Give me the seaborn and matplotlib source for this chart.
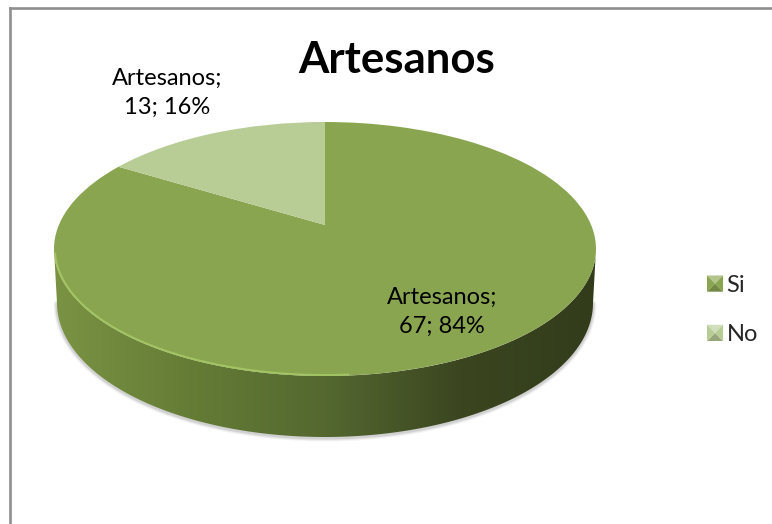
import numpy as np
import matplotlib
matplotlib.use("Agg")
import matplotlib.pyplot as plt
import seaborn as sns
from matplotlib.colors import to_rgb
from matplotlib.legend_handler import HandlerBase
from matplotlib.patches import Patch, Polygon
from matplotlib.transforms import Transform

categories = ["Si", "No"]
counts = [67, 13]
series_name = "Artesanos"
slice_colors = ["#8aa550", "#b8cc96"]
wall_stops = ["#7a9343", "#657c36", "#546830", "#3b4620", "#323c1b"]

sns.set_theme(style="white")
plt.rcParams["font.family"] = ["Lato", "DejaVu Sans"]

W, H = 772, 524
fig = plt.figure(figsize=(W / 100, H / 100), dpi=100, facecolor="white")
ax = fig.add_axes([0, 0, 1, 1])

# Pie geometry in canvas units
CX, CY, RX, RY = 325.0, 249.0, 271.0, 127.0
APEX_RISE = 24.0
BASE_CY, BASE_RX, BASE_RY = 303.0, 268.0, 134.0


class TiltProjection(Transform):
    """Perspective view of the unit disc lying on a table."""
    input_dims = output_dims = 2
    is_affine = False

    def transform_non_affine(self, values):
        u, v = np.asarray(values, dtype=float).T
        r = 2 * APEX_RISE / (2 * RY)
        denom = 1 + r * v
        y = (RY * v + APEX_RISE) / denom
        k = RX * np.sqrt(1 - (APEX_RISE / RY) ** 2)
        return np.column_stack([CX + k * u / denom, CY - y])


wedges, _ = ax.pie(counts, colors=slice_colors, startangle=90, counterclock=False,
                   wedgeprops=dict(linewidth=0), frame=True)
projection = TiltProjection()
for wedge in wedges:
    wedge.set_transform(projection + ax.transData)
    wedge.set_zorder(4)

ax.set_aspect("auto")
ax.set_xlim(0, W)
ax.set_ylim(H, 0)
ax.set_xticks([])
ax.set_yticks([])

# Chart frame: only its left and top edges fall inside the canvas
for side in ("right", "bottom"):
    ax.spines[side].set_visible(False)
for side, pos, bounds in (("left", 10, (8, H)), ("top", 8, (10, W))):
    spine = ax.spines[side]
    spine.set_visible(True)
    spine.set_position(("data", pos))
    spine.set_bounds(*bounds)
    spine.set_color("#8e8e8e")
    spine.set_linewidth(1.9)

# Outer wall of the disc, shaded from left to right
front = np.linspace(np.pi, 0, 200)
top_x = CX + RX * np.cos(front)
top_y = CY + RY * np.sin(front)
base_x = CX + BASE_RX * np.cos(front)
base_y = BASE_CY + BASE_RY * np.sin(front)

for width, alpha in ((7, 0.06), (5, 0.09), (3, 0.14)):
    ax.plot(base_x, base_y + 1, color="#555555", lw=width * 0.72, alpha=alpha,
            zorder=1, solid_capstyle="round")

wall_outline = Polygon(np.column_stack([np.r_[top_x, base_x[::-1]],
                                        np.r_[top_y, base_y[::-1]]]),
                       closed=True, transform=ax.transData, facecolor="none",
                       edgecolor="none")
ax.add_patch(wall_outline)
wall_cmap = sns.blend_palette(wall_stops, n_colors=256, as_cmap=True)
wall = ax.imshow(np.linspace(0, 1, 256)[None, :], cmap=wall_cmap, aspect="auto",
                 extent=(CX - RX, CX + RX, BASE_CY + BASE_RY, CY), zorder=2,
                 interpolation="bilinear")
wall.set_clip_path(wall_outline)
ax.set_xlim(0, W)
ax.set_ylim(H, 0)

# Bevel highlight along the lower left rim of the top face
rim = np.linspace(np.radians(178), np.radians(85), 120)
ax.plot(CX + (RX - 1) * np.cos(rim), CY + (RY - 1) * np.sin(rim), color="#a2c463",
        lw=1.4, zorder=5, solid_capstyle="round")

# Title and data labels
ax.text(397, 60, series_name, ha="center", va="center", fontsize=31.5,
        fontweight="bold", color="black", zorder=6)

total = sum(counts)
label_centers = [(442, 312), (167, 93)]
for count, (lx, ly) in zip(counts, label_centers):
    ax.text(lx, ly, f"{series_name};\n{count}; {count / total:.0%}", ha="center",
            va="center", fontsize=17, linespacing=1.45, color="black", zorder=6)


class BevelSwatch(HandlerBase):
    """Square legend key with a pyramid-like bevel."""

    def create_artists(self, legend, orig_handle, xdescent, ydescent, width, height,
                       fontsize, trans):
        base = np.array(to_rgb(orig_handle.get_facecolor()))
        lighter = base + (1 - base) * 0.35
        darker = base * 0.82
        x0, y0 = -xdescent, -ydescent
        x1, y1 = x0 + width, y0 + height
        mx, my = (x0 + x1) / 2, (y0 + y1) / 2
        faces = [
            ([(x0, y1), (x1, y1), (mx, my)], lighter),
            ([(x0, y0), (x1, y0), (mx, my)], darker),
            ([(x0, y0), (x0, y1), (mx, my)], base),
            ([(x1, y0), (x1, y1), (mx, my)], base),
        ]
        return [Polygon(pts, closed=True, facecolor=col, edgecolor="none",
                        transform=trans) for pts, col in faces]


handles = [Patch(facecolor=c, label=n) for c, n in zip(slice_colors, categories)]
ax.legend(handles=handles, handler_map={Patch: BevelSwatch()}, loc="center left",
          bbox_to_anchor=(707 / W, 1 - 310 / H), frameon=False, fontsize=17,
          handlelength=0.68, handleheight=0.68, handletextpad=0.15, labelspacing=1.2,
          borderpad=0, borderaxespad=0)

fig.savefig("out.png", dpi=100, facecolor="white")
